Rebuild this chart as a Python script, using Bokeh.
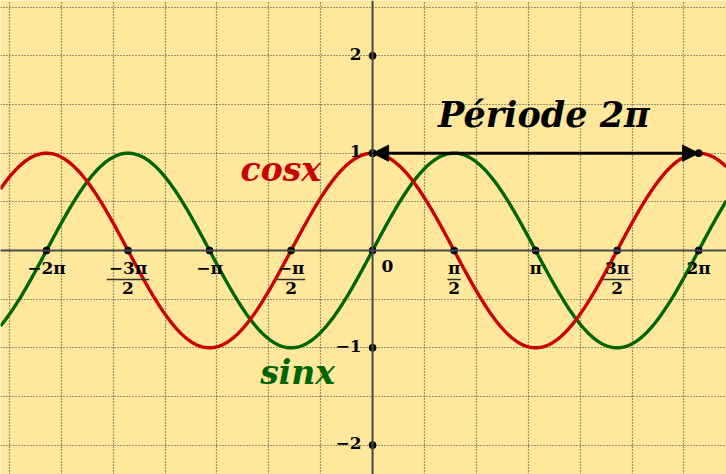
import numpy as np
from bokeh.plotting import figure
from bokeh.models import Range1d, Span, Arrow, NormalHead, FixedTicker, Grid
from bokeh.core.properties import value
from bokeh.embed import file_html
from bokeh.resources import INLINE

PI = np.pi

# Tick marks along the x axis, in multiples of pi
whole_ticks_pi = [-2, -1, 1, 2]
whole_labels = ["−2π", "−π", "π", "2π"]
frac_ticks_pi = [-1.5, -0.5, 0.5, 1.5]
frac_numerators = ["−3π", "−π", "π", "3π"]
frac_denominators = ["2", "2", "2", "2"]
all_ticks_pi = [-2, -1.5, -1, -0.5, 0, 0.5, 1, 1.5, 2]

# Tick marks along the y axis
y_ticks = [-2, -1, 1, 2]
y_labels = ["−2", "−1", "1", "2"]

# Period shown by the arrow: from x = 0 to x = 2*pi at height 1
period_start_pi = 0
period_end_pi = 2
period_level = 1

X_MIN, X_MAX = -7.17, 6.82
Y_MIN, Y_MAX = -2.302, 2.569
PX_PER_Y = 474 / (Y_MAX - Y_MIN)

BG = "#FFE89C"
RED = "#CC0000"
GREEN = "#006400"
AXIS = "#4a4a4a"
SERIF = value("DejaVu Serif")

p = figure(width=726, height=474, x_range=Range1d(X_MIN, X_MAX),
           y_range=Range1d(Y_MIN, Y_MAX), x_axis_type=None, y_axis_type=None,
           output_backend="svg", toolbar_location=None, min_border=0,
           background_fill_color=BG, border_fill_color=BG)
p.outline_line_color = None

# Dotted grid: every unit in x, every half unit in y
for dim, ticks in ((0, list(range(-7, 7))), (1, list(np.arange(-2.5, 2.6, 0.5)))):
    g = Grid(dimension=dim, ticker=FixedTicker(ticks=ticks),
             grid_line_color="#3a3a3a", grid_line_dash="1 2", grid_line_width=1.2)
    p.add_layout(g)

# Axes through the origin
p.add_layout(Span(location=0, dimension="width", line_color=AXIS, line_width=2))
p.add_layout(Span(location=0, dimension="height", line_color=AXIS, line_width=2))

# The two curves
xs = np.linspace(X_MIN, X_MAX, 800)
p.line(xs, np.sin(xs), line_color=GREEN, line_width=3.4)
p.line(xs, np.cos(xs), line_color=RED, line_width=3.4)

# Period arrow
head = dict(size=16, fill_color="black", line_color="black")
p.add_layout(Arrow(start=NormalHead(**head), end=NormalHead(**head),
                   x_start=period_start_pi * PI, y_start=period_level,
                   x_end=period_end_pi * PI, y_end=period_level,
                   line_color="black", line_width=3))

# Points on the axes
tick_x = [t * PI for t in all_ticks_pi]
p.scatter(tick_x, [0] * len(tick_x), size=7, color="black")
p.scatter([0] * len(y_ticks), y_ticks, size=7, color="black")
p.scatter([period_start_pi * PI, period_end_pi * PI], [period_level] * 2,
          size=7, color="black")

label_style = dict(text_font=SERIF, text_font_style="bold", text_font_size="17px",
                   text_color="black")

# Whole multiples of pi
p.text(x=[t * PI for t in whole_ticks_pi], y=[0] * len(whole_ticks_pi),
       text=whole_labels, text_align="center", text_baseline="top",
       y_offset=8, **label_style)
p.text(x=[0], y=[0], text=["0"], text_align="left", text_baseline="top",
       x_offset=9, y_offset=10, **label_style)

# Fractions of pi: numerator, bar, denominator
fx = [t * PI for t in frac_ticks_pi]
p.text(x=fx, y=[0] * len(fx), text=frac_numerators, text_align="center",
       text_baseline="top", y_offset=8, **label_style)
half_w = [0.14 * len(n) - 0.01 for n in frac_numerators]
bar_y = -29 / PX_PER_Y
p.segment(x0=[x - w for x, w in zip(fx, half_w)], y0=[bar_y] * len(fx),
          x1=[x + w for x, w in zip(fx, half_w)], y1=[bar_y] * len(fx),
          line_color="#333333", line_width=1.5)
p.text(x=fx, y=[0] * len(fx), text=frac_denominators, text_align="center",
       text_baseline="top", y_offset=32, **label_style)

# y axis values
p.text(x=[0] * len(y_ticks), y=y_ticks, text=y_labels, text_align="right",
       text_baseline="middle", x_offset=-11, y_offset=-2, **label_style)

# Annotations
big = dict(text_font=SERIF, text_font_style="bold italic", text_baseline="alphabetic",
           text_align="center", y_offset=-13)
p.text(x=[3.30], y=[1.264], text=["Période 2π"], text_color="black",
       text_font_size="35px", **big)
p.text(x=[-1.77], y=[0.70], text=["cosx"], text_color=RED,
       text_font_size="33px", **big)
p.text(x=[-1.445], y=[-1.387], text=["sinx"], text_color=GREEN,
       text_font_size="33px", **big)

open("out.html", "w").write(file_html(p, INLINE))
